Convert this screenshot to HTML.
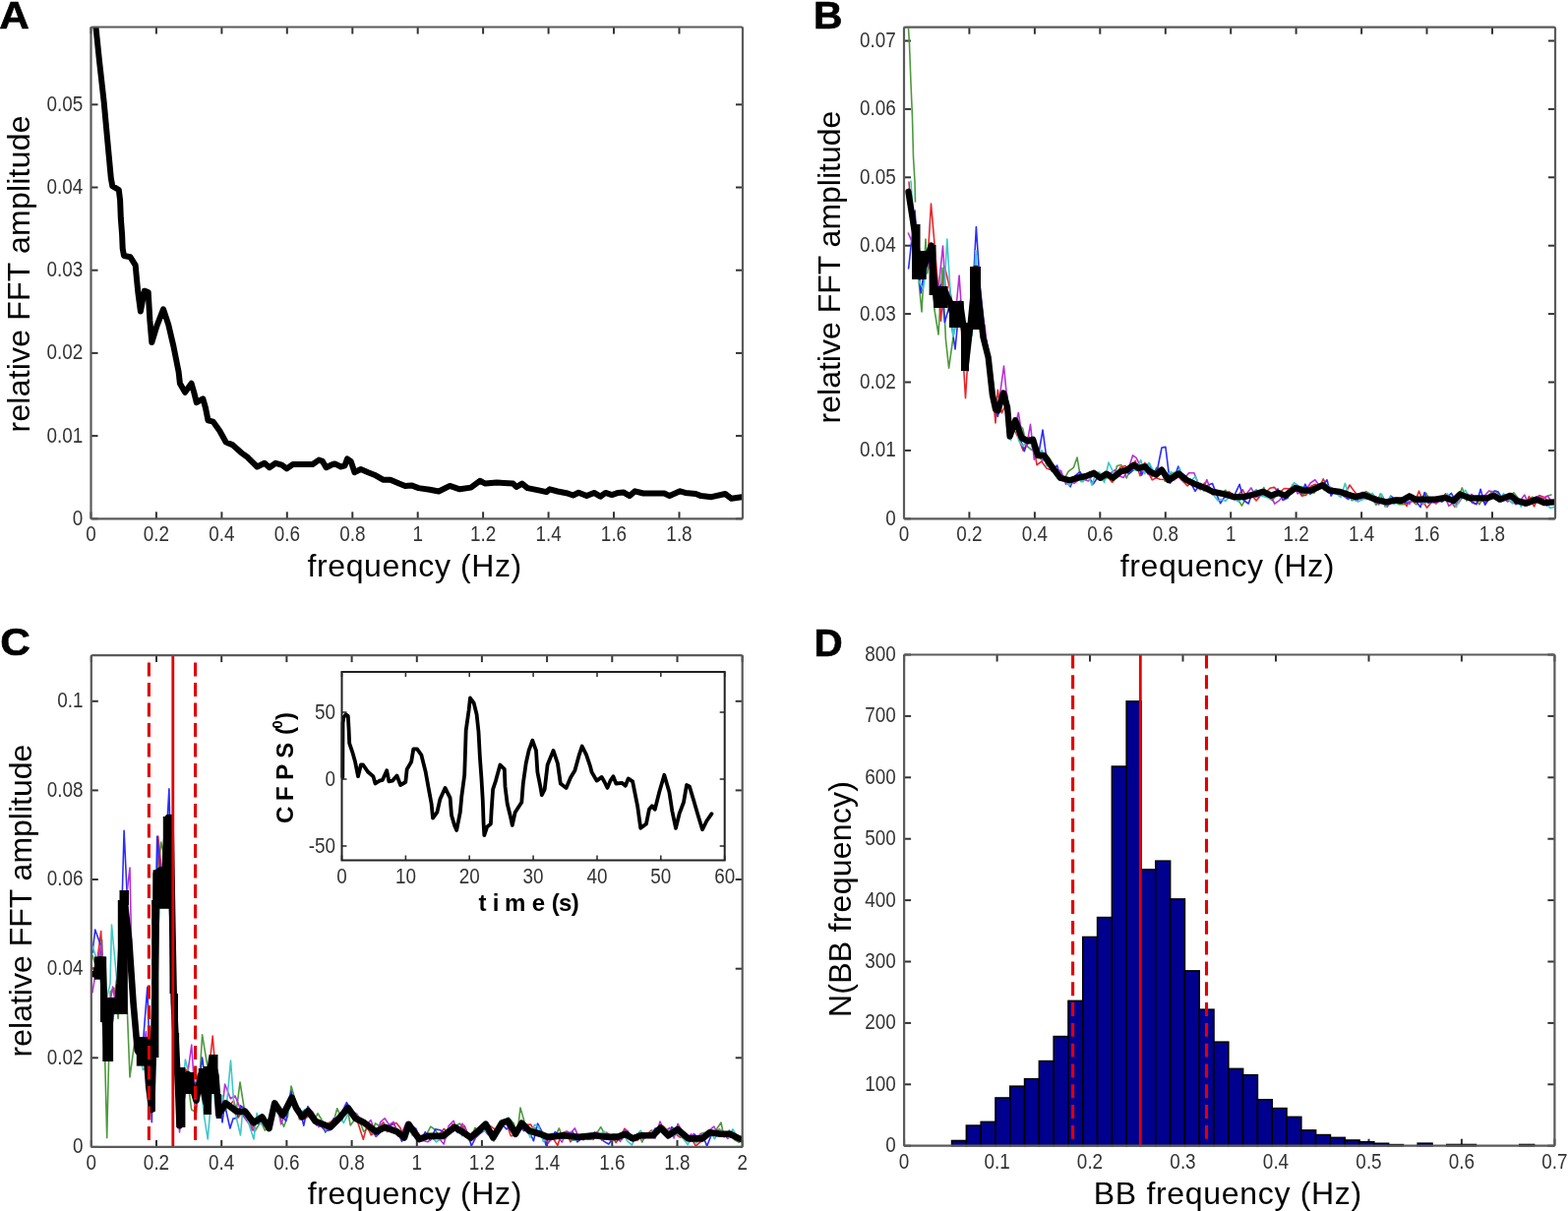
<!DOCTYPE html>
<html><head><meta charset="utf-8"><title>Figure</title>
<style>
html,body{margin:0;padding:0;background:#fff;}
body{width:1594px;height:1231px;overflow:hidden;}
svg{display:block;}
.tl{font-family:'Liberation Sans', Arial, sans-serif;font-size:21px;fill:#333;}
.al{font-family:'Liberation Sans', Arial, sans-serif;font-size:32px;fill:#000;letter-spacing:0.45px;}
.pl{font-family:'Liberation Sans', Arial, sans-serif;font-size:38.5px;font-weight:bold;fill:#000;stroke:#000;stroke-width:0.6px;}
.il{font-family:'Liberation Sans', Arial, sans-serif;font-size:17px;fill:#333;}
.ib{font-family:'Liberation Sans', Arial, sans-serif;font-size:24px;font-weight:bold;fill:#000;}
.ibs{font-family:'Liberation Sans', Arial, sans-serif;font-size:15px;font-weight:bold;fill:#000;}
</style></head>
<body>
<svg width="1594" height="1231" viewBox="0 0 1594 1231">
<rect width="100%" height="100%" fill="#fff"/>
<line x1="92.5" y1="527.3" x2="92.5" y2="520.3" stroke="#333" stroke-width="2"/>
<line x1="92.5" y1="27.5" x2="92.5" y2="34.5" stroke="#333" stroke-width="2"/>
<line x1="158.9" y1="527.3" x2="158.9" y2="520.3" stroke="#333" stroke-width="2"/>
<line x1="158.9" y1="27.5" x2="158.9" y2="34.5" stroke="#333" stroke-width="2"/>
<line x1="225.4" y1="527.3" x2="225.4" y2="520.3" stroke="#333" stroke-width="2"/>
<line x1="225.4" y1="27.5" x2="225.4" y2="34.5" stroke="#333" stroke-width="2"/>
<line x1="291.8" y1="527.3" x2="291.8" y2="520.3" stroke="#333" stroke-width="2"/>
<line x1="291.8" y1="27.5" x2="291.8" y2="34.5" stroke="#333" stroke-width="2"/>
<line x1="358.3" y1="527.3" x2="358.3" y2="520.3" stroke="#333" stroke-width="2"/>
<line x1="358.3" y1="27.5" x2="358.3" y2="34.5" stroke="#333" stroke-width="2"/>
<line x1="424.7" y1="527.3" x2="424.7" y2="520.3" stroke="#333" stroke-width="2"/>
<line x1="424.7" y1="27.5" x2="424.7" y2="34.5" stroke="#333" stroke-width="2"/>
<line x1="491.1" y1="527.3" x2="491.1" y2="520.3" stroke="#333" stroke-width="2"/>
<line x1="491.1" y1="27.5" x2="491.1" y2="34.5" stroke="#333" stroke-width="2"/>
<line x1="557.6" y1="527.3" x2="557.6" y2="520.3" stroke="#333" stroke-width="2"/>
<line x1="557.6" y1="27.5" x2="557.6" y2="34.5" stroke="#333" stroke-width="2"/>
<line x1="624.0" y1="527.3" x2="624.0" y2="520.3" stroke="#333" stroke-width="2"/>
<line x1="624.0" y1="27.5" x2="624.0" y2="34.5" stroke="#333" stroke-width="2"/>
<line x1="690.5" y1="527.3" x2="690.5" y2="520.3" stroke="#333" stroke-width="2"/>
<line x1="690.5" y1="27.5" x2="690.5" y2="34.5" stroke="#333" stroke-width="2"/>
<line x1="92.5" y1="527.3" x2="99.5" y2="527.3" stroke="#333" stroke-width="2"/>
<line x1="755.0" y1="527.3" x2="748.0" y2="527.3" stroke="#333" stroke-width="2"/>
<line x1="92.5" y1="443.1" x2="99.5" y2="443.1" stroke="#333" stroke-width="2"/>
<line x1="755.0" y1="443.1" x2="748.0" y2="443.1" stroke="#333" stroke-width="2"/>
<line x1="92.5" y1="358.9" x2="99.5" y2="358.9" stroke="#333" stroke-width="2"/>
<line x1="755.0" y1="358.9" x2="748.0" y2="358.9" stroke="#333" stroke-width="2"/>
<line x1="92.5" y1="274.7" x2="99.5" y2="274.7" stroke="#333" stroke-width="2"/>
<line x1="755.0" y1="274.7" x2="748.0" y2="274.7" stroke="#333" stroke-width="2"/>
<line x1="92.5" y1="190.5" x2="99.5" y2="190.5" stroke="#333" stroke-width="2"/>
<line x1="755.0" y1="190.5" x2="748.0" y2="190.5" stroke="#333" stroke-width="2"/>
<line x1="92.5" y1="106.3" x2="99.5" y2="106.3" stroke="#333" stroke-width="2"/>
<line x1="755.0" y1="106.3" x2="748.0" y2="106.3" stroke="#333" stroke-width="2"/>
<line x1="919.0" y1="527.3" x2="919.0" y2="520.3" stroke="#333" stroke-width="2"/>
<line x1="919.0" y1="27.7" x2="919.0" y2="34.7" stroke="#333" stroke-width="2"/>
<line x1="985.4" y1="527.3" x2="985.4" y2="520.3" stroke="#333" stroke-width="2"/>
<line x1="985.4" y1="27.7" x2="985.4" y2="34.7" stroke="#333" stroke-width="2"/>
<line x1="1051.9" y1="527.3" x2="1051.9" y2="520.3" stroke="#333" stroke-width="2"/>
<line x1="1051.9" y1="27.7" x2="1051.9" y2="34.7" stroke="#333" stroke-width="2"/>
<line x1="1118.3" y1="527.3" x2="1118.3" y2="520.3" stroke="#333" stroke-width="2"/>
<line x1="1118.3" y1="27.7" x2="1118.3" y2="34.7" stroke="#333" stroke-width="2"/>
<line x1="1184.8" y1="527.3" x2="1184.8" y2="520.3" stroke="#333" stroke-width="2"/>
<line x1="1184.8" y1="27.7" x2="1184.8" y2="34.7" stroke="#333" stroke-width="2"/>
<line x1="1251.2" y1="527.3" x2="1251.2" y2="520.3" stroke="#333" stroke-width="2"/>
<line x1="1251.2" y1="27.7" x2="1251.2" y2="34.7" stroke="#333" stroke-width="2"/>
<line x1="1317.6" y1="527.3" x2="1317.6" y2="520.3" stroke="#333" stroke-width="2"/>
<line x1="1317.6" y1="27.7" x2="1317.6" y2="34.7" stroke="#333" stroke-width="2"/>
<line x1="1384.1" y1="527.3" x2="1384.1" y2="520.3" stroke="#333" stroke-width="2"/>
<line x1="1384.1" y1="27.7" x2="1384.1" y2="34.7" stroke="#333" stroke-width="2"/>
<line x1="1450.5" y1="527.3" x2="1450.5" y2="520.3" stroke="#333" stroke-width="2"/>
<line x1="1450.5" y1="27.7" x2="1450.5" y2="34.7" stroke="#333" stroke-width="2"/>
<line x1="1517.0" y1="527.3" x2="1517.0" y2="520.3" stroke="#333" stroke-width="2"/>
<line x1="1517.0" y1="27.7" x2="1517.0" y2="34.7" stroke="#333" stroke-width="2"/>
<line x1="919.0" y1="527.3" x2="926.0" y2="527.3" stroke="#333" stroke-width="2"/>
<line x1="1581.0" y1="527.3" x2="1574.0" y2="527.3" stroke="#333" stroke-width="2"/>
<line x1="919.0" y1="457.9" x2="926.0" y2="457.9" stroke="#333" stroke-width="2"/>
<line x1="1581.0" y1="457.9" x2="1574.0" y2="457.9" stroke="#333" stroke-width="2"/>
<line x1="919.0" y1="388.5" x2="926.0" y2="388.5" stroke="#333" stroke-width="2"/>
<line x1="1581.0" y1="388.5" x2="1574.0" y2="388.5" stroke="#333" stroke-width="2"/>
<line x1="919.0" y1="319.1" x2="926.0" y2="319.1" stroke="#333" stroke-width="2"/>
<line x1="1581.0" y1="319.1" x2="1574.0" y2="319.1" stroke="#333" stroke-width="2"/>
<line x1="919.0" y1="249.7" x2="926.0" y2="249.7" stroke="#333" stroke-width="2"/>
<line x1="1581.0" y1="249.7" x2="1574.0" y2="249.7" stroke="#333" stroke-width="2"/>
<line x1="919.0" y1="180.3" x2="926.0" y2="180.3" stroke="#333" stroke-width="2"/>
<line x1="1581.0" y1="180.3" x2="1574.0" y2="180.3" stroke="#333" stroke-width="2"/>
<line x1="919.0" y1="110.9" x2="926.0" y2="110.9" stroke="#333" stroke-width="2"/>
<line x1="1581.0" y1="110.9" x2="1574.0" y2="110.9" stroke="#333" stroke-width="2"/>
<line x1="919.0" y1="41.5" x2="926.0" y2="41.5" stroke="#333" stroke-width="2"/>
<line x1="1581.0" y1="41.5" x2="1574.0" y2="41.5" stroke="#333" stroke-width="2"/>
<line x1="92.8" y1="1165.9" x2="92.8" y2="1158.9" stroke="#333" stroke-width="2"/>
<line x1="92.8" y1="666.1" x2="92.8" y2="673.1" stroke="#333" stroke-width="2"/>
<line x1="159.0" y1="1165.9" x2="159.0" y2="1158.9" stroke="#333" stroke-width="2"/>
<line x1="159.0" y1="666.1" x2="159.0" y2="673.1" stroke="#333" stroke-width="2"/>
<line x1="225.2" y1="1165.9" x2="225.2" y2="1158.9" stroke="#333" stroke-width="2"/>
<line x1="225.2" y1="666.1" x2="225.2" y2="673.1" stroke="#333" stroke-width="2"/>
<line x1="291.4" y1="1165.9" x2="291.4" y2="1158.9" stroke="#333" stroke-width="2"/>
<line x1="291.4" y1="666.1" x2="291.4" y2="673.1" stroke="#333" stroke-width="2"/>
<line x1="357.6" y1="1165.9" x2="357.6" y2="1158.9" stroke="#333" stroke-width="2"/>
<line x1="357.6" y1="666.1" x2="357.6" y2="673.1" stroke="#333" stroke-width="2"/>
<line x1="423.8" y1="1165.9" x2="423.8" y2="1158.9" stroke="#333" stroke-width="2"/>
<line x1="423.8" y1="666.1" x2="423.8" y2="673.1" stroke="#333" stroke-width="2"/>
<line x1="489.9" y1="1165.9" x2="489.9" y2="1158.9" stroke="#333" stroke-width="2"/>
<line x1="489.9" y1="666.1" x2="489.9" y2="673.1" stroke="#333" stroke-width="2"/>
<line x1="556.1" y1="1165.9" x2="556.1" y2="1158.9" stroke="#333" stroke-width="2"/>
<line x1="556.1" y1="666.1" x2="556.1" y2="673.1" stroke="#333" stroke-width="2"/>
<line x1="622.3" y1="1165.9" x2="622.3" y2="1158.9" stroke="#333" stroke-width="2"/>
<line x1="622.3" y1="666.1" x2="622.3" y2="673.1" stroke="#333" stroke-width="2"/>
<line x1="688.5" y1="1165.9" x2="688.5" y2="1158.9" stroke="#333" stroke-width="2"/>
<line x1="688.5" y1="666.1" x2="688.5" y2="673.1" stroke="#333" stroke-width="2"/>
<line x1="754.7" y1="1165.9" x2="754.7" y2="1158.9" stroke="#333" stroke-width="2"/>
<line x1="754.7" y1="666.1" x2="754.7" y2="673.1" stroke="#333" stroke-width="2"/>
<line x1="92.8" y1="1165.9" x2="99.8" y2="1165.9" stroke="#333" stroke-width="2"/>
<line x1="754.7" y1="1165.9" x2="747.7" y2="1165.9" stroke="#333" stroke-width="2"/>
<line x1="92.8" y1="1075.3" x2="99.8" y2="1075.3" stroke="#333" stroke-width="2"/>
<line x1="754.7" y1="1075.3" x2="747.7" y2="1075.3" stroke="#333" stroke-width="2"/>
<line x1="92.8" y1="984.7" x2="99.8" y2="984.7" stroke="#333" stroke-width="2"/>
<line x1="754.7" y1="984.7" x2="747.7" y2="984.7" stroke="#333" stroke-width="2"/>
<line x1="92.8" y1="894.0" x2="99.8" y2="894.0" stroke="#333" stroke-width="2"/>
<line x1="754.7" y1="894.0" x2="747.7" y2="894.0" stroke="#333" stroke-width="2"/>
<line x1="92.8" y1="803.4" x2="99.8" y2="803.4" stroke="#333" stroke-width="2"/>
<line x1="754.7" y1="803.4" x2="747.7" y2="803.4" stroke="#333" stroke-width="2"/>
<line x1="92.8" y1="712.8" x2="99.8" y2="712.8" stroke="#333" stroke-width="2"/>
<line x1="754.7" y1="712.8" x2="747.7" y2="712.8" stroke="#333" stroke-width="2"/>
<line x1="919.1" y1="1164.7" x2="919.1" y2="1157.7" stroke="#333" stroke-width="2"/>
<line x1="919.1" y1="665.5" x2="919.1" y2="672.5" stroke="#333" stroke-width="2"/>
<line x1="1013.6" y1="1164.7" x2="1013.6" y2="1157.7" stroke="#333" stroke-width="2"/>
<line x1="1013.6" y1="665.5" x2="1013.6" y2="672.5" stroke="#333" stroke-width="2"/>
<line x1="1108.0" y1="1164.7" x2="1108.0" y2="1157.7" stroke="#333" stroke-width="2"/>
<line x1="1108.0" y1="665.5" x2="1108.0" y2="672.5" stroke="#333" stroke-width="2"/>
<line x1="1202.5" y1="1164.7" x2="1202.5" y2="1157.7" stroke="#333" stroke-width="2"/>
<line x1="1202.5" y1="665.5" x2="1202.5" y2="672.5" stroke="#333" stroke-width="2"/>
<line x1="1297.0" y1="1164.7" x2="1297.0" y2="1157.7" stroke="#333" stroke-width="2"/>
<line x1="1297.0" y1="665.5" x2="1297.0" y2="672.5" stroke="#333" stroke-width="2"/>
<line x1="1391.5" y1="1164.7" x2="1391.5" y2="1157.7" stroke="#333" stroke-width="2"/>
<line x1="1391.5" y1="665.5" x2="1391.5" y2="672.5" stroke="#333" stroke-width="2"/>
<line x1="1485.9" y1="1164.7" x2="1485.9" y2="1157.7" stroke="#333" stroke-width="2"/>
<line x1="1485.9" y1="665.5" x2="1485.9" y2="672.5" stroke="#333" stroke-width="2"/>
<line x1="1580.4" y1="1164.7" x2="1580.4" y2="1157.7" stroke="#333" stroke-width="2"/>
<line x1="1580.4" y1="665.5" x2="1580.4" y2="672.5" stroke="#333" stroke-width="2"/>
<line x1="919.1" y1="1164.7" x2="926.1" y2="1164.7" stroke="#333" stroke-width="2"/>
<line x1="1580.4" y1="1164.7" x2="1573.4" y2="1164.7" stroke="#333" stroke-width="2"/>
<line x1="919.1" y1="1102.3" x2="926.1" y2="1102.3" stroke="#333" stroke-width="2"/>
<line x1="1580.4" y1="1102.3" x2="1573.4" y2="1102.3" stroke="#333" stroke-width="2"/>
<line x1="919.1" y1="1039.9" x2="926.1" y2="1039.9" stroke="#333" stroke-width="2"/>
<line x1="1580.4" y1="1039.9" x2="1573.4" y2="1039.9" stroke="#333" stroke-width="2"/>
<line x1="919.1" y1="977.5" x2="926.1" y2="977.5" stroke="#333" stroke-width="2"/>
<line x1="1580.4" y1="977.5" x2="1573.4" y2="977.5" stroke="#333" stroke-width="2"/>
<line x1="919.1" y1="915.1" x2="926.1" y2="915.1" stroke="#333" stroke-width="2"/>
<line x1="1580.4" y1="915.1" x2="1573.4" y2="915.1" stroke="#333" stroke-width="2"/>
<line x1="919.1" y1="852.7" x2="926.1" y2="852.7" stroke="#333" stroke-width="2"/>
<line x1="1580.4" y1="852.7" x2="1573.4" y2="852.7" stroke="#333" stroke-width="2"/>
<line x1="919.1" y1="790.3" x2="926.1" y2="790.3" stroke="#333" stroke-width="2"/>
<line x1="1580.4" y1="790.3" x2="1573.4" y2="790.3" stroke="#333" stroke-width="2"/>
<line x1="919.1" y1="727.9" x2="926.1" y2="727.9" stroke="#333" stroke-width="2"/>
<line x1="1580.4" y1="727.9" x2="1573.4" y2="727.9" stroke="#333" stroke-width="2"/>
<line x1="919.1" y1="665.5" x2="926.1" y2="665.5" stroke="#333" stroke-width="2"/>
<line x1="1580.4" y1="665.5" x2="1573.4" y2="665.5" stroke="#333" stroke-width="2"/>
<defs><clipPath id="clipA"><rect x="92.5" y="27.5" width="662.5" height="499.8"/></clipPath><clipPath id="clipB"><rect x="919.0" y="27.7" width="662.0" height="499.6"/></clipPath><clipPath id="clipC"><rect x="92.8" y="666.1" width="661.9" height="499.8"/></clipPath><clipPath id="clipD"><rect x="919.1" y="665.5" width="661.3" height="499.2"/></clipPath></defs>
<g clip-path="url(#clipA)"><polyline points="97.5,28.0 101.0,62.0 105.6,103.0 109.0,140.0 112.8,181.0 114.3,189.1 120.8,193.0 122.1,203.4 122.8,221.6 124.1,238.5 124.7,252.8 126.0,260.0 132.5,261.3 137.7,269.7 139.0,284.0 140.3,297.0 142.9,316.5 146.8,295.7 150.7,297.0 152.4,326.0 154.3,348.1 159.5,331.2 166.0,314.3 171.2,329.9 176.4,352.0 179.0,365.0 181.6,378.0 182.9,389.7 188.1,398.8 194.6,389.7 197.2,398.8 199.8,409.2 206.3,405.3 208.9,414.4 211.5,427.4 216.7,428.7 223.2,437.8 229.7,449.5 236.2,452.1 245.1,460.1 251.3,464.5 261.4,474.5 268.9,470.8 273.9,475.2 280.2,470.8 286.5,472.7 291.5,476.4 297.8,472.0 317.8,472.0 324.1,467.6 327.9,468.9 331.6,475.2 336.6,472.7 340.4,471.4 346.7,474.5 350.5,473.3 353.0,466.4 356.7,468.9 360.5,480.2 366.8,477.0 374.3,480.2 380.6,482.7 389.4,487.7 396.9,487.7 405.7,491.5 411.9,494.0 418.2,493.4 425.6,496.1 436.9,497.8 446.0,499.5 457.3,493.9 467.4,497.3 478.7,495.6 487.8,488.8 493.4,491.6 504.7,490.5 521.6,491.6 525.0,495.0 530.7,491.6 536.3,496.1 547.6,498.4 555.5,500.1 558.9,497.3 566.8,499.5 575.8,501.2 582.6,503.5 588.2,500.7 596.4,504.1 603.9,500.9 610.3,504.7 615.6,500.9 622.0,503.1 628.4,500.9 633.7,500.4 640.1,504.1 645.5,499.3 654.0,501.5 675.3,501.5 680.7,504.1 691.3,499.3 696.7,500.9 707.3,502.0 712.7,504.1 723.3,505.2 737.2,502.0 743.6,506.8 754.0,505.2" fill="none" stroke="#000" stroke-width="6" stroke-linejoin="round" stroke-linecap="round"/></g>
<g clip-path="url(#clipB)"><polyline points="926.0,206.7 930.8,251.7 937.0,317.0 941.0,243.0 942.7,277.9 946.4,254.4 950.0,315.0 954.0,340.0 958.0,272.2 961.4,344.6 964.6,374.2 972.1,320.4 976.3,313.2 980.4,343.3 985.5,346.0 990.2,308.8 994.5,294.4 998.2,331.0 1002.2,348.5 1006.3,368.8 1011.0,404.5 1016.0,414.4 1020.9,402.9 1025.4,439.5 1030.6,431.1 1036.0,431.8 1039.8,435.9 1043.7,453.1 1048.1,456.9 1053.1,458.9 1057.7,466.6 1062.6,461.1 1067.3,466.4 1072.4,475.9 1077.7,478.8 1081.4,487.7 1086.2,479.2 1091.3,475.4 1095.0,465.0 1099.1,489.6 1103.5,485.3 1107.2,484.8 1112.2,483.6 1116.5,486.9 1121.7,488.3 1126.3,485.1 1131.5,489.5 1135.6,473.5 1139.9,472.5 1145.2,486.0 1149.1,477.0 1153.1,476.6 1157.6,472.5 1161.2,472.8 1165.5,471.5 1170.9,485.0 1175.7,475.4 1180.5,477.2 1184.2,489.3 1189.4,482.3 1194.4,480.1 1198.2,484.6 1203.0,486.8 1206.9,488.9 1210.8,489.4 1214.4,493.2 1218.3,496.7 1221.9,497.2 1227.1,495.3 1231.2,497.6 1235.4,499.0 1240.5,502.9 1245.9,498.2 1249.7,504.7 1253.5,503.4 1258.5,507.5 1262.4,514.1 1267.0,505.8 1270.9,502.6 1275.4,502.1 1280.8,504.7 1284.8,495.5 1289.1,505.6 1293.7,508.9 1298.7,500.2 1303.7,505.0 1309.1,506.1 1314.2,492.2 1319.1,497.3 1323.3,502.8 1327.0,501.7 1331.1,499.1 1335.9,501.4 1341.2,493.5 1346.6,498.6 1350.6,496.8 1354.6,499.8 1359.3,502.0 1364.5,503.1 1369.3,498.7 1374.3,508.8 1379.6,507.4 1384.6,503.6 1388.5,499.5 1393.5,502.5 1398.9,513.4 1403.2,502.0 1408.1,515.0 1412.0,511.2 1417.2,510.3 1422.3,512.7 1427.6,512.7 1432.4,501.8 1436.3,509.9 1439.9,512.8 1444.4,506.8 1449.7,501.1 1454.8,510.6 1458.8,507.7 1462.8,510.0 1467.5,506.0 1471.3,510.3 1476.5,506.2 1481.2,508.6 1486.4,495.9 1490.9,509.0 1495.5,505.7 1499.9,506.3 1503.8,512.9 1507.7,506.6 1512.2,505.5 1516.3,499.9 1520.9,499.2 1524.7,505.4 1529.3,506.1 1534.3,507.3 1538.8,500.7 1544.0,507.3 1548.4,507.8 1552.9,508.4 1557.8,505.1 1562.2,509.2 1567.5,507.9 1572.8,504.2 1576.9,502.9" fill="none" stroke="#4c9a3c" stroke-width="1.6" stroke-linejoin="round" stroke-linecap="round"/>
<polyline points="924.0,185.0 929.8,250.2 933.6,277.0 937.5,264.0 942.6,272.2 946.5,207.0 950.0,248.0 956.5,326.1 960.5,271.4 965.8,294.4 971.2,332.7 976.3,316.8 981.5,404.8 985.0,346.9 989.9,306.7 993.5,274.4 997.2,318.9 1001.4,340.6 1005.1,358.2 1012.0,430.0 1014.3,396.4 1018.3,419.8 1022.4,411.7 1026.3,425.8 1031.3,437.5 1035.4,445.5 1040.0,457.8 1044.9,450.1 1049.7,448.0 1054.1,472.6 1058.8,469.0 1063.9,476.1 1067.6,477.4 1072.7,474.7 1077.3,486.4 1082.6,486.7 1087.2,490.5 1091.2,489.2 1094.9,487.7 1098.8,483.5 1103.8,487.8 1107.9,479.4 1112.1,481.0 1115.8,483.7 1120.7,485.1 1125.3,484.0 1130.6,490.2 1134.4,485.4 1138.9,474.9 1144.0,473.4 1148.8,479.3 1154.2,468.4 1159.0,483.7 1163.8,470.3 1167.5,480.6 1171.3,487.9 1175.4,485.8 1179.3,487.3 1184.4,487.5 1189.2,486.5 1193.4,488.0 1197.8,484.7 1201.9,488.6 1207.2,494.0 1211.2,489.4 1216.6,491.3 1220.2,497.9 1224.5,490.9 1228.4,498.5 1232.9,503.0 1236.7,500.7 1241.0,502.3 1245.2,502.6 1249.2,499.6 1254.1,502.8 1258.9,503.5 1263.2,497.6 1267.4,506.5 1272.3,502.9 1277.1,508.9 1282.3,502.4 1287.0,500.5 1290.9,496.3 1295.4,495.4 1300.4,501.1 1305.5,496.5 1310.4,496.7 1315.2,497.4 1319.1,497.6 1323.3,504.1 1327.9,503.2 1332.6,494.2 1337.1,492.1 1340.7,497.0 1345.2,486.8 1349.8,496.5 1354.7,497.7 1358.8,502.2 1363.7,501.8 1367.7,501.1 1372.1,493.0 1376.4,499.1 1381.4,505.0 1386.1,502.3 1390.0,503.2 1394.0,505.9 1398.7,504.7 1402.3,511.3 1407.1,510.9 1411.9,508.5 1416.5,506.4 1420.9,506.8 1426.1,508.6 1430.1,514.5 1433.7,503.7 1438.1,511.1 1442.5,499.2 1446.6,509.9 1450.6,516.1 1455.3,510.4 1460.6,510.8 1464.4,508.6 1469.6,501.8 1474.5,508.7 1478.9,515.2 1482.6,508.4 1487.0,503.7 1491.1,507.3 1495.3,509.0 1500.4,512.5 1505.5,506.5 1509.4,511.6 1514.6,502.7 1518.7,501.4 1524.1,509.8 1528.8,503.8 1532.9,507.8 1536.5,510.3 1540.7,511.9 1545.9,510.1 1550.5,514.1 1554.4,504.5 1559.6,514.9 1564.7,503.6 1569.9,505.4 1574.5,510.5 1579.5,509.4" fill="none" stroke="#e8262a" stroke-width="1.6" stroke-linejoin="round" stroke-linecap="round"/>
<polyline points="923.6,272.9 930.1,214.1 933.8,274.3 936.1,298.0 942.5,254.5 947.8,288.0 951.9,299.1 956.5,289.0 960.4,327.7 964.8,311.9 971.0,355.0 975.2,311.7 980.6,340.1 984.6,349.1 988.3,308.2 992.4,230.6 996.4,292.4 1001.4,340.3 1005.7,362.2 1010.0,412.2 1014.2,423.5 1019.6,404.0 1023.4,399.8 1028.5,437.6 1032.5,427.4 1036.9,445.2 1041.3,458.8 1046.4,444.3 1050.1,456.9 1055.3,464.8 1060.0,437.0 1064.0,466.7 1069.3,479.2 1074.7,473.1 1078.7,488.0 1083.2,488.8 1088.1,494.8 1092.8,483.9 1097.8,479.5 1101.5,486.1 1106.5,484.2 1111.3,492.0 1115.4,486.0 1120.1,487.2 1125.0,483.2 1129.5,485.8 1134.2,480.8 1138.9,482.0 1142.5,476.7 1147.8,481.7 1152.6,477.3 1156.6,471.6 1160.7,483.0 1164.8,473.3 1168.4,471.4 1172.8,481.4 1176.9,475.5 1181.0,455.0 1184.9,454.4 1189.4,491.2 1193.3,486.9 1197.8,474.1 1201.8,488.2 1206.9,487.5 1210.9,491.6 1215.0,499.4 1220.3,491.5 1224.3,495.8 1228.7,492.8 1232.5,491.4 1236.9,503.1 1240.7,511.6 1244.4,505.8 1249.6,505.1 1254.8,503.7 1260.1,492.3 1264.3,508.5 1269.2,512.0 1272.9,501.1 1277.2,498.6 1281.4,500.8 1285.5,500.7 1289.7,504.5 1295.0,502.2 1299.0,496.9 1304.1,508.4 1308.5,506.5 1312.7,500.5 1318.0,497.6 1323.2,501.6 1326.8,492.2 1331.8,502.4 1335.5,498.7 1340.8,495.3 1344.8,493.1 1349.0,487.8 1353.1,504.1 1357.2,497.8 1362.1,498.6 1365.7,504.0 1370.7,507.5 1375.9,501.9 1379.6,505.1 1384.9,507.8 1390.2,502.4 1394.6,508.0 1399.1,509.9 1404.1,508.2 1409.1,513.0 1413.8,504.1 1418.0,507.3 1423.0,511.8 1426.7,509.8 1430.7,511.4 1434.5,509.9 1438.6,508.3 1444.0,515.6 1448.1,500.6 1451.8,511.2 1456.7,510.1 1461.1,507.7 1465.8,510.2 1470.7,506.1 1475.4,501.3 1479.3,508.9 1483.9,500.0 1488.2,503.8 1492.2,503.1 1496.2,510.7 1500.9,512.6 1505.1,497.3 1509.6,513.3 1513.6,507.6 1519.0,499.1 1522.8,499.8 1527.9,507.7 1533.1,507.7 1536.9,505.7 1540.9,512.7 1546.2,509.4 1550.4,513.9 1554.5,507.7 1559.5,510.2 1564.2,508.1 1568.9,511.3 1572.7,514.0 1576.7,510.4" fill="none" stroke="#2b2bff" stroke-width="1.6" stroke-linejoin="round" stroke-linecap="round"/>
<polyline points="923.4,237.0 930.0,252.8 934.8,278.6 938.7,268.5 943.8,268.4 948.3,276.0 952.6,307.9 958.5,250.0 961.1,292.9 966.0,298.7 970.1,332.5 975.1,280.0 979.7,348.1 984.0,377.1 988.3,277.9 992.3,274.2 998.4,332.0 1001.1,330.3 1004.7,370.0 1010.6,404.6 1014.2,418.6 1020.5,372.0 1022.6,394.2 1027.3,435.8 1031.2,436.6 1035.3,419.5 1039.1,443.3 1043.6,453.4 1047.5,431.4 1051.3,467.2 1055.8,457.5 1059.5,468.2 1064.7,465.4 1069.5,476.0 1074.5,478.8 1078.5,478.4 1083.6,492.2 1087.5,489.1 1092.0,491.4 1096.3,488.1 1101.2,487.1 1106.4,489.0 1111.4,482.6 1115.1,484.5 1119.7,482.9 1124.3,479.1 1128.7,481.2 1133.3,477.8 1137.7,483.8 1142.1,485.5 1146.6,478.2 1151.6,462.8 1155.1,465.4 1159.0,473.1 1162.8,475.0 1167.2,482.3 1171.7,483.6 1175.4,481.0 1180.3,476.5 1185.3,482.6 1189.8,486.7 1194.1,486.6 1199.2,481.3 1204.6,485.6 1208.6,480.8 1213.9,480.8 1219.2,494.3 1223.1,497.6 1226.8,487.6 1231.0,499.1 1236.3,498.2 1240.3,502.2 1244.9,500.3 1250.1,504.6 1254.6,507.9 1258.8,507.4 1262.7,505.6 1268.0,500.8 1271.9,495.9 1276.9,505.5 1281.6,503.7 1285.9,504.2 1290.5,499.6 1295.7,512.1 1300.4,508.8 1304.8,504.0 1310.1,498.1 1314.8,493.1 1319.2,502.0 1323.1,497.9 1328.2,497.2 1332.2,491.0 1336.9,487.6 1341.7,494.5 1345.3,493.9 1349.2,493.5 1353.7,495.9 1358.9,501.4 1363.7,502.5 1367.4,505.3 1371.1,503.0 1375.4,505.2 1380.0,509.4 1384.0,500.6 1387.9,500.6 1393.1,505.7 1396.9,509.2 1401.7,512.8 1406.0,505.2 1410.1,515.2 1414.7,509.7 1418.9,506.2 1424.2,505.9 1429.1,506.6 1432.8,512.5 1437.3,504.5 1441.1,509.2 1446.1,512.2 1451.3,508.1 1455.2,509.2 1459.7,512.2 1464.5,507.6 1468.6,503.9 1472.8,514.3 1477.8,510.9 1482.7,511.2 1487.6,504.1 1492.0,505.2 1496.1,502.4 1499.8,506.5 1504.0,507.4 1509.0,504.0 1513.9,498.9 1518.0,500.1 1523.0,505.3 1527.5,506.2 1532.9,510.1 1536.8,505.3 1540.9,507.6 1544.9,509.5 1549.9,503.1 1554.1,512.9 1558.1,507.0 1563.3,504.6 1568.1,506.5 1573.5,504.3 1578.3,511.8" fill="none" stroke="#b830d8" stroke-width="1.6" stroke-linejoin="round" stroke-linecap="round"/>
<polyline points="926.0,184.1 930.6,252.5 934.0,285.5 938.5,293.7 943.8,260.6 947.6,262.8 952.8,300.9 956.5,305.3 960.2,288.6 962.8,243.0 968.8,342.5 974.2,321.9 979.3,341.4 983.0,340.4 988.1,341.0 991.9,254.8 995.9,315.3 1001.0,350.9 1006.1,363.5 1010.8,398.7 1014.9,418.8 1019.9,402.6 1023.9,409.7 1027.5,447.4 1031.6,426.6 1035.8,448.2 1040.0,453.5 1045.1,446.6 1049.9,453.5 1054.2,461.7 1059.2,457.8 1063.8,473.7 1067.8,473.9 1072.9,477.6 1076.8,487.6 1081.7,486.8 1087.1,493.4 1091.6,487.1 1096.6,487.7 1100.9,489.7 1106.0,482.4 1110.1,493.2 1114.0,480.6 1117.8,480.0 1122.6,490.5 1127.0,470.0 1132.5,481.7 1136.8,478.0 1141.1,480.5 1146.3,476.0 1149.9,475.7 1155.2,478.5 1159.7,467.6 1163.7,481.8 1168.1,470.3 1173.1,479.8 1177.8,477.7 1181.7,482.4 1186.8,482.4 1190.7,479.7 1195.1,484.4 1199.0,475.5 1203.4,488.1 1207.3,486.2 1211.5,488.0 1215.3,484.3 1219.2,493.8 1223.8,499.2 1227.7,496.1 1233.0,502.1 1237.9,508.9 1241.7,507.6 1246.0,509.3 1250.9,503.5 1255.3,506.9 1259.1,510.1 1263.1,504.4 1267.4,505.0 1272.4,501.5 1277.1,497.6 1281.6,503.9 1285.9,504.9 1290.8,506.6 1295.5,500.4 1300.4,498.8 1305.3,504.6 1310.5,501.7 1315.6,490.6 1320.5,494.2 1324.6,495.0 1329.4,501.9 1334.4,500.3 1339.3,493.4 1343.6,491.3 1348.0,492.8 1352.9,495.8 1358.1,501.7 1363.1,505.5 1367.4,491.2 1371.1,503.6 1375.7,507.9 1381.0,509.9 1385.5,507.3 1390.1,507.4 1395.0,501.2 1400.1,507.7 1404.6,502.1 1408.6,514.8 1413.4,504.9 1417.2,512.6 1422.6,508.0 1426.7,508.9 1431.0,509.2 1435.4,506.1 1440.2,506.0 1444.2,510.0 1449.2,511.8 1453.2,506.1 1458.2,505.8 1462.0,508.7 1467.0,508.2 1471.5,501.8 1476.1,509.8 1480.3,515.5 1485.1,505.8 1489.5,498.3 1493.6,504.2 1498.7,505.8 1503.0,508.1 1507.3,504.1 1511.3,504.3 1514.9,506.2 1519.8,504.2 1524.0,509.8 1528.4,501.7 1533.2,506.9 1537.5,511.9 1541.2,505.2 1546.3,515.2 1550.1,508.0 1555.2,509.8 1558.8,508.4 1564.1,507.2 1567.9,508.1 1571.8,511.5 1576.0,516.5 1579.9,515.4" fill="none" stroke="#3cc8c8" stroke-width="1.6" stroke-linejoin="round" stroke-linecap="round"/>
<polyline points="923.5,29.0 924.5,45.0 926.0,85.0 927.5,120.0 928.5,160.0 930.0,185.0 930.5,205.0" fill="none" stroke="#4c9a3c" stroke-width="1.6" stroke-linejoin="round" stroke-linecap="round"/>
<polyline points="923.4,194.8 927.7,222.2 930.8,243.3 934.0,268.6 935.1,281.3 940.3,268.6 946.7,249.6 948.8,275.0 952.0,306.6 959.3,294.0 965.7,306.6 969.9,327.7 976.2,308.7 980.4,338.3 981.5,374.2 986.8,327.7 992.0,272.9 995.2,306.6 999.4,342.5 1004.7,363.6 1008.9,401.6 1012.1,416.4 1014.4,417.5 1020.1,399.6 1024.1,414.2 1026.6,443.5 1032.2,427.2 1038.7,445.1 1045.2,448.4 1050.1,446.7 1055.0,463.0 1061.5,463.0 1068.0,472.7 1077.7,485.7 1087.5,488.2 1095.6,485.7 1103.7,484.1 1111.9,480.8 1118.4,485.7 1124.9,481.7 1131.3,485.7 1139.5,479.2 1146.0,477.6 1152.5,472.7 1157.3,476.0 1163.8,474.3 1168.7,479.2 1175.2,482.5 1180.9,477.6 1187.9,488.0 1198.4,481.4 1206.4,488.0 1214.3,491.9 1224.8,495.9 1232.7,499.8 1239.3,501.1 1245.9,502.5 1253.8,505.1 1264.3,505.1 1274.9,502.5 1284.1,499.8 1292.0,503.8 1299.9,501.1 1306.5,503.8 1317.0,495.9 1324.9,498.5 1332.8,498.5 1344.7,493.2 1351.3,498.5 1361.8,499.8 1369.7,502.5 1377.6,505.1 1386.6,503.1 1398.4,507.7 1409.0,510.4 1419.5,508.4 1424.8,509.0 1432.7,504.4 1439.3,507.7 1459.0,507.7 1469.6,505.8 1477.5,509.0 1484.1,502.5 1494.6,506.4 1511.8,506.4 1518.3,503.8 1524.9,507.7 1535.5,503.8 1542.1,509.0 1551.3,511.7 1561.8,507.7 1569.7,511.0 1580.0,510.4" fill="none" stroke="#000" stroke-width="6.3" stroke-linejoin="round" stroke-linecap="round"/>
<rect x="927" y="228" width="8.5" height="56.0" fill="#000"/>
<rect x="930" y="255" width="11.7" height="29.0" fill="#000"/>
<rect x="944.6" y="249" width="6.9" height="51.0" fill="#000"/>
<rect x="949" y="291" width="14.6" height="22.0" fill="#000"/>
<rect x="965" y="306" width="14.7" height="27.0" fill="#000"/>
<rect x="977" y="328" width="8.0" height="49.0" fill="#000"/>
<rect x="986" y="271" width="11.0" height="64.0" fill="#000"/></g>
<g clip-path="url(#clipC)"><polyline points="94.0,971.0 99.3,989.1 103.7,955.5 108.7,1156.6 112.2,1008.0 115.9,1004.2 120.1,1035.5 124.9,958.6 127.3,973.6 132.0,1095.0 138.1,1049.5 142.6,1073.4 146.3,1072.4 150.0,1094.3 154.4,1108.7 159.0,903.8 163.7,856.0 168.1,875.4 172.2,918.9 177.4,1029.6 182.2,1135.3 186.3,1104.4 190.1,1093.5 194.7,1128.0 199.5,1130.8 203.1,1093.2 205.6,1051.8 212.4,1093.2 216.7,1093.7 221.8,1129.0 225.8,1131.7 231.2,1125.6 236.1,1129.7 239.9,1132.2 244.0,1100.0 248.2,1126.5 252.6,1137.5 256.5,1147.0 259.0,1150.0 265.2,1140.1 269.3,1149.1 273.4,1145.4 278.6,1125.4 283.8,1133.9 288.5,1145.3 292.5,1134.7 296.0,1104.0 300.7,1120.0 304.4,1137.6 308.5,1137.8 313.2,1125.0 318.5,1140.9 323.0,1131.8 326.9,1137.9 330.8,1151.2 334.8,1140.8 338.8,1142.0 342.7,1126.7 348.0,1138.5 352.4,1122.5 356.2,1143.9 360.2,1138.5 365.1,1138.3 369.7,1150.2 373.9,1147.4 377.6,1153.2 381.6,1141.8 386.3,1145.2 390.4,1149.0 394.0,1145.3 398.1,1146.8 402.0,1150.3 406.3,1150.6 410.6,1155.1 415.8,1150.1 420.6,1149.4 425.3,1157.5 428.9,1157.7 434.1,1152.1 437.8,1145.2 442.5,1148.5 446.7,1155.6 452.1,1158.0 457.0,1152.2 462.2,1145.2 467.3,1142.0 472.5,1148.4 477.7,1160.5 482.9,1146.3 488.1,1151.9 492.7,1140.5 497.3,1146.2 502.0,1160.1 507.4,1149.4 512.6,1139.9 517.5,1136.7 522.2,1141.7 525.9,1152.6 529.0,1126.0 535.3,1147.9 539.4,1148.3 544.1,1146.6 549.3,1152.7 553.5,1155.0 558.3,1156.5 563.5,1157.5 568.3,1146.9 572.5,1157.3 577.3,1156.1 582.3,1159.3 587.6,1158.6 592.2,1152.9 596.4,1158.1 601.5,1158.1 606.6,1152.2 610.7,1145.6 614.6,1152.4 618.6,1156.7 623.0,1152.7 627.1,1152.7 632.2,1158.4 636.0,1152.5 639.6,1156.0 644.5,1156.1 649.1,1152.6 652.8,1160.9 656.6,1153.4 661.7,1154.6 665.7,1153.1 670.5,1148.6 674.9,1145.5 679.9,1149.7 685.3,1149.2 689.7,1146.1 693.6,1156.8 698.5,1156.6 702.4,1156.9 707.3,1160.9 711.8,1152.6 716.1,1151.3 721.2,1153.1 726.4,1150.9 733.0,1141.0 736.1,1156.0 741.3,1148.9 746.5,1158.5 751.5,1161.4" fill="none" stroke="#4c9a3c" stroke-width="1.6" stroke-linejoin="round" stroke-linecap="round"/>
<polyline points="94.0,984.1 98.0,982.9 102.7,946.5 107.6,1058.0 113.0,1050.7 118.3,997.4 122.5,973.1 127.8,937.4 131.5,946.7 135.9,1002.1 140.4,1063.5 144.0,1075.2 149.1,1072.9 153.0,1112.5 156.8,1052.4 160.7,850.1 165.8,899.8 170.6,863.2 176.0,969.5 179.7,1080.2 183.8,1135.5 188.7,1087.1 193.9,1092.9 198.7,1128.0 203.6,1101.7 208.8,1121.3 216.2,1053.0 218.7,1085.1 223.3,1129.6 227.8,1122.9 233.1,1123.3 237.6,1119.0 242.3,1135.9 246.7,1129.1 251.3,1130.7 255.7,1149.5 259.7,1137.0 264.2,1141.0 269.3,1144.0 274.5,1138.4 278.4,1125.6 283.1,1130.1 288.1,1131.2 291.8,1126.8 296.6,1120.3 300.8,1120.4 304.6,1137.6 309.5,1137.6 313.6,1134.7 317.5,1129.8 321.8,1139.2 326.1,1139.1 330.1,1143.0 334.8,1141.8 340.0,1136.9 344.7,1139.2 349.6,1127.9 354.7,1131.6 358.8,1130.6 364.1,1141.9 369.3,1158.2 373.1,1143.9 377.2,1153.8 381.0,1151.5 386.0,1144.5 389.8,1140.9 393.5,1150.5 397.4,1144.0 402.8,1141.4 406.6,1145.9 411.1,1156.0 415.9,1144.1 419.7,1150.4 423.4,1149.5 428.0,1155.8 431.8,1157.0 437.0,1157.4 442.3,1156.5 446.1,1154.1 451.4,1147.3 455.6,1152.5 460.0,1142.7 464.7,1146.8 468.3,1146.9 472.2,1144.3 476.6,1154.7 480.6,1150.6 484.5,1150.4 489.7,1146.4 494.7,1141.9 499.5,1145.3 503.8,1148.3 509.2,1140.0 514.2,1139.5 519.2,1154.6 524.2,1154.3 529.4,1139.1 534.6,1143.3 539.5,1143.0 543.9,1150.9 548.1,1150.8 552.5,1157.8 557.3,1156.1 562.0,1156.5 566.8,1164.4 571.0,1151.7 575.6,1150.2 579.9,1160.7 584.7,1155.5 589.7,1156.6 594.4,1155.2 599.3,1154.6 603.0,1158.5 607.0,1153.3 611.0,1156.3 616.3,1151.1 621.6,1154.5 626.2,1161.5 631.3,1154.2 635.0,1147.2 638.7,1150.8 644.0,1159.4 647.9,1159.3 652.4,1153.2 657.7,1153.4 662.0,1149.0 666.3,1150.8 670.4,1144.4 674.5,1144.9 679.4,1154.1 683.4,1152.3 687.1,1153.2 691.4,1156.2 696.6,1154.7 702.0,1156.2 707.3,1164.8 711.7,1161.1 716.2,1158.5 720.7,1151.5 726.0,1151.0 731.3,1147.9 736.4,1151.1 741.1,1151.5 745.6,1154.8 750.1,1157.9" fill="none" stroke="#e8262a" stroke-width="1.6" stroke-linejoin="round" stroke-linecap="round"/>
<polyline points="94.0,968.4 96.7,945.0 102.5,961.3 107.5,1044.2 112.0,1056.5 117.0,1020.5 121.0,1028.1 126.1,844.3 130.7,942.5 135.6,1028.0 140.2,1056.6 145.1,1064.5 149.8,1003.5 154.3,1140.7 159.7,850.2 163.6,890.5 168.0,872.1 171.9,801.9 176.3,1011.7 180.9,1107.5 185.6,1102.1 189.6,1099.8 193.8,1099.5 197.5,1098.6 201.3,1111.3 205.6,1075.0 210.3,1110.3 215.4,1079.9 219.6,1082.4 226.0,1141.0 228.4,1122.7 233.9,1147.0 237.0,1137.0 240.8,1136.6 244.5,1123.8 249.4,1127.4 253.5,1135.8 257.5,1138.8 262.3,1142.2 267.2,1139.0 272.0,1144.1 276.3,1137.5 281.2,1122.3 286.1,1133.7 290.7,1139.6 295.9,1109.3 300.3,1126.1 304.5,1126.8 308.8,1144.2 312.9,1124.7 317.1,1131.4 321.4,1143.6 325.7,1143.9 330.8,1149.6 335.3,1148.7 339.2,1136.9 344.2,1140.4 347.8,1130.1 352.4,1120.6 357.7,1129.8 362.5,1138.0 367.1,1138.0 372.1,1144.4 377.0,1147.2 382.2,1155.4 386.1,1151.6 391.0,1143.9 395.0,1144.4 400.0,1141.6 404.3,1150.0 408.5,1160.3 413.0,1149.0 417.6,1144.5 422.8,1147.1 427.2,1160.1 432.3,1150.7 437.4,1159.1 442.7,1147.7 447.4,1148.7 452.5,1152.1 456.8,1147.7 461.8,1147.4 467.2,1146.9 471.1,1153.1 475.5,1151.5 479.2,1164.9 483.4,1156.7 488.3,1152.0 492.3,1149.0 496.9,1150.3 502.2,1156.8 506.1,1148.9 510.1,1142.5 514.8,1147.8 518.8,1145.1 522.7,1153.5 527.6,1144.4 532.7,1149.6 537.2,1148.0 542.4,1159.7 546.6,1142.0 551.1,1150.5 555.1,1164.2 560.1,1158.5 564.4,1150.5 568.5,1153.9 573.9,1152.8 577.5,1152.3 582.0,1150.4 586.9,1160.8 591.6,1156.8 595.7,1157.1 599.8,1158.0 604.5,1150.8 609.9,1154.4 613.8,1160.1 618.8,1163.0 623.9,1156.0 629.0,1158.1 633.9,1155.0 637.7,1149.5 643.0,1157.7 647.6,1157.8 652.7,1151.6 657.0,1155.8 662.1,1153.4 666.1,1147.0 669.9,1146.6 675.0,1148.6 678.8,1156.9 682.9,1145.5 687.2,1150.5 692.0,1154.1 696.4,1157.0 701.8,1160.1 705.4,1152.6 709.7,1156.7 714.3,1154.4 718.7,1164.9 723.8,1152.3 727.7,1149.4 732.0,1150.3 736.6,1151.6 740.9,1156.3 745.7,1154.4 750.6,1159.5" fill="none" stroke="#2b2bff" stroke-width="1.6" stroke-linejoin="round" stroke-linecap="round"/>
<polyline points="94.0,1008.8 98.9,977.5 103.0,960.0 107.0,1034.1 110.7,1026.5 114.6,1003.1 119.0,1029.5 122.7,956.4 126.7,927.8 132.0,882.0 134.8,1021.8 139.3,1057.3 144.1,1075.9 148.4,1048.5 152.6,1114.2 156.9,1031.0 161.8,925.6 166.6,904.1 171.2,854.7 175.5,952.5 180.2,1095.3 182.5,1151.0 189.8,1098.1 194.8,1062.0 198.6,1122.6 202.9,1092.8 207.4,1117.8 212.7,1105.5 217.3,1080.7 221.2,1106.0 226.5,1123.2 228.6,1102.0 234.3,1116.8 239.0,1114.0 243.8,1125.8 247.6,1134.8 253.0,1142.4 257.5,1148.9 262.1,1134.7 267.4,1135.7 272.8,1148.4 276.6,1126.3 281.7,1122.0 285.7,1142.8 290.3,1130.0 294.9,1115.4 298.7,1124.5 304.0,1131.4 309.3,1130.5 314.1,1126.7 319.1,1132.4 324.1,1145.6 327.7,1144.3 331.6,1149.2 335.9,1143.0 340.4,1139.8 344.5,1132.7 349.3,1129.4 352.9,1125.6 358.3,1129.8 362.9,1132.4 367.7,1141.0 372.5,1143.3 377.0,1138.6 382.4,1154.7 386.7,1140.7 391.1,1136.8 395.6,1143.4 400.2,1140.4 404.4,1154.8 408.1,1152.7 413.0,1141.4 417.6,1145.9 422.3,1149.1 426.0,1160.8 430.5,1159.4 434.9,1160.8 439.4,1156.9 443.4,1153.5 447.5,1158.6 451.2,1163.0 456.0,1144.6 461.1,1139.3 465.1,1151.4 470.1,1142.1 473.9,1149.5 478.9,1159.7 484.2,1155.1 487.8,1148.3 492.0,1148.4 495.7,1152.9 500.0,1149.5 504.3,1150.4 507.9,1144.7 513.1,1138.3 518.4,1148.3 523.8,1149.3 527.9,1146.7 533.2,1147.0 538.3,1147.9 542.5,1148.2 547.7,1152.7 553.1,1156.0 557.0,1161.1 562.2,1157.1 567.1,1155.5 571.3,1161.0 576.2,1149.9 580.0,1151.9 584.4,1146.8 588.2,1156.4 593.0,1158.8 597.0,1156.2 601.8,1157.2 606.8,1150.5 612.0,1159.3 616.7,1156.0 621.9,1159.2 626.7,1155.0 630.5,1160.3 635.9,1148.2 640.4,1157.4 644.1,1154.6 648.1,1153.6 653.2,1157.1 658.2,1156.0 662.2,1153.4 666.1,1157.1 671.0,1140.0 675.8,1150.6 680.7,1146.4 685.2,1156.9 689.1,1142.3 693.4,1149.9 698.2,1157.0 702.7,1152.9 707.8,1155.6 713.1,1153.2 717.0,1155.3 721.7,1148.7 725.8,1145.0 730.8,1155.0 735.8,1153.1 739.8,1157.5 744.4,1152.8 749.1,1156.2" fill="none" stroke="#b830d8" stroke-width="1.6" stroke-linejoin="round" stroke-linecap="round"/>
<polyline points="94.0,961.7 97.9,974.1 101.8,994.9 106.2,1024.5 112.0,1000.0 113.5,940.0 119.5,1004.3 124.6,933.6 128.6,943.4 132.3,982.5 136.4,1018.4 140.5,1060.6 145.2,1087.4 149.1,1085.6 153.1,1124.9 158.2,985.8 163.2,907.9 167.5,900.4 171.5,838.7 176.0,976.0 180.9,1107.4 185.4,1110.3 188.4,1077.0 195.5,1106.4 199.4,1113.8 203.7,1097.8 207.5,1134.1 211.2,1158.0 217.4,1085.6 222.0,1132.5 226.0,1113.5 230.2,1125.5 234.5,1078.0 238.1,1127.0 244.5,1154.0 246.7,1128.3 251.5,1137.7 258.0,1158.0 261.1,1131.5 265.4,1142.6 270.4,1143.1 274.4,1147.4 279.0,1124.7 282.9,1130.4 287.4,1131.5 292.8,1129.6 297.6,1120.9 301.9,1124.4 305.6,1131.2 309.7,1127.8 313.3,1131.5 317.6,1139.4 322.9,1139.8 327.2,1138.6 331.0,1148.1 336.0,1143.8 340.9,1141.4 345.1,1135.7 349.4,1141.4 353.6,1132.6 358.6,1131.1 362.9,1137.4 366.9,1142.4 371.6,1143.0 375.2,1143.1 379.8,1152.7 383.7,1148.8 388.6,1143.8 393.4,1148.4 397.5,1150.5 402.3,1146.3 407.5,1155.8 411.5,1153.9 415.5,1147.1 419.2,1154.3 423.8,1155.6 428.8,1160.1 433.7,1154.9 438.9,1156.2 443.7,1160.8 449.0,1156.9 453.8,1149.9 457.5,1145.4 461.2,1148.5 465.5,1145.3 469.6,1154.7 473.5,1149.1 477.4,1158.1 482.2,1153.4 486.4,1151.4 490.8,1149.1 495.7,1151.1 500.2,1154.2 504.6,1150.1 508.8,1148.4 512.5,1142.6 517.0,1135.8 521.2,1145.1 525.2,1154.6 530.4,1142.5 535.1,1146.0 539.0,1156.2 543.4,1143.2 547.7,1145.4 552.3,1160.5 557.1,1153.5 561.8,1152.0 565.9,1157.2 571.0,1157.3 576.2,1152.0 579.9,1158.1 584.0,1159.0 588.3,1158.1 592.2,1155.2 596.2,1153.9 599.8,1152.1 604.4,1152.0 608.9,1156.6 613.7,1150.0 618.3,1154.1 623.4,1159.3 627.6,1155.2 632.8,1151.3 637.7,1159.9 642.5,1163.9 646.4,1154.6 651.1,1149.2 655.4,1154.6 659.5,1154.3 663.5,1149.3 667.6,1149.2 672.1,1149.6 675.9,1152.3 679.7,1154.7 684.6,1154.4 689.5,1151.8 694.0,1156.8 699.2,1163.4 702.9,1157.3 707.9,1161.9 712.2,1156.8 717.1,1151.9 721.3,1148.0 726.4,1157.9 731.5,1148.6 736.4,1150.9 741.1,1156.3 744.9,1147.8 749.2,1154.9" fill="none" stroke="#3cc8c8" stroke-width="1.6" stroke-linejoin="round" stroke-linecap="round"/>
<polyline points="94.0,990.0 97.3,990.5 101.3,975.3 104.6,978.0 106.0,1019.0 108.6,1073.0 111.3,1024.7 114.3,1022.0 119.5,1020.0 121.5,1000.0 124.1,948.0 127.0,919.5 131.3,956.5 135.5,1019.0 139.8,1068.0 144.1,1074.0 148.3,1066.0 151.2,1104.3 154.2,1128.0 156.6,1045.0 158.3,960.0 158.8,888.0 163.0,884.5 166.8,910.0 168.5,866.0 170.0,840.0 171.0,831.0 173.5,831.0 175.3,942.3 176.8,1019.0 181.0,1104.3 182.5,1144.1 186.7,1095.0 191.0,1092.0 195.3,1104.3 199.5,1118.6 203.8,1093.0 209.5,1121.4 215.2,1075.9 219.4,1093.0 222.3,1132.8 229.4,1121.4 240.8,1129.9 249.3,1129.9 257.9,1141.3 266.4,1135.6 273.5,1147.0 279.2,1121.4 287.5,1133.8 296.6,1115.7 301.1,1126.2 307.1,1135.3 313.1,1129.3 320.7,1139.8 335.7,1145.8 344.7,1136.8 353.8,1126.2 361.3,1136.8 370.3,1141.3 382.4,1150.3 391.4,1145.8 403.5,1150.3 411.0,1156.4 415.5,1142.8 426.0,1157.9 435.1,1154.9 450.1,1154.9 462.2,1145.8 469.7,1150.3 478.7,1156.4 493.8,1142.8 501.3,1156.4 510.4,1141.3 516.3,1139.4 524.1,1152.7 530.4,1141.8 538.2,1149.6 549.2,1152.7 557.1,1155.9 572.7,1154.3 588.4,1155.9 604.1,1154.3 619.8,1155.9 627.6,1155.9 635.5,1152.7 643.3,1157.4 651.2,1154.3 663.7,1154.3 671.5,1146.5 679.4,1154.3 688.8,1148.0 699.8,1157.4 713.9,1157.4 721.7,1151.2 732.7,1152.7 742.1,1152.7 751.5,1157.4 754.0,1158.0" fill="none" stroke="#000" stroke-width="6.6" stroke-linejoin="round" stroke-linecap="round"/>
<rect x="96" y="972.5" width="11.4" height="23.2" fill="#000"/>
<rect x="102" y="972.5" width="6.2" height="66.5" fill="#000"/>
<rect x="102" y="1014" width="21.6" height="17.0" fill="#000"/>
<rect x="104.3" y="1031" width="10.8" height="48.0" fill="#000"/>
<rect x="119.8" y="915" width="10.0" height="116.0" fill="#000"/>
<rect x="121.5" y="905" width="9.5" height="15.0" fill="#000"/>
<rect x="138.8" y="1054" width="14.6" height="29.6" fill="#000"/>
<rect x="150.5" y="1075" width="7.3" height="55.0" fill="#000"/>
<rect x="154.1" y="915" width="7.3" height="160.0" fill="#000"/>
<rect x="155.6" y="884.3" width="18.3" height="39.5" fill="#000"/>
<rect x="165.8" y="830" width="8.1" height="84.0" fill="#000"/>
<rect x="172.5" y="905" width="5.0" height="105.0" fill="#000"/>
<rect x="176.5" y="1010" width="4.5" height="52.0" fill="#000"/>
<rect x="178.6" y="1050" width="3.5" height="58.0" fill="#000"/>
<rect x="179.5" y="1085" width="8.9" height="61.0" fill="#000"/>
<rect x="185.7" y="1090" width="11.6" height="22.0" fill="#000"/>
<rect x="207" y="1084" width="8.0" height="49.0" fill="#000"/>
<rect x="212.5" y="1072" width="9.0" height="40.0" fill="#000"/>
<rect x="201.8" y="1086" width="7.2" height="26.0" fill="#000"/>
<rect x="219.7" y="1112" width="5.3" height="25.0" fill="#000"/></g>
<rect x="967.6" y="1159.5" width="14.8" height="5.2" fill="#00008f" stroke="#000" stroke-width="1.6"/>
<rect x="982.4" y="1144.1" width="14.8" height="20.6" fill="#00008f" stroke="#000" stroke-width="1.6"/>
<rect x="997.2" y="1140.4" width="14.8" height="24.3" fill="#00008f" stroke="#000" stroke-width="1.6"/>
<rect x="1012.0" y="1116.0" width="14.8" height="48.7" fill="#00008f" stroke="#000" stroke-width="1.6"/>
<rect x="1026.8" y="1104.2" width="14.8" height="60.5" fill="#00008f" stroke="#000" stroke-width="1.6"/>
<rect x="1041.6" y="1096.7" width="14.8" height="68.0" fill="#00008f" stroke="#000" stroke-width="1.6"/>
<rect x="1056.4" y="1078.6" width="14.8" height="86.1" fill="#00008f" stroke="#000" stroke-width="1.6"/>
<rect x="1071.2" y="1053.6" width="14.8" height="111.1" fill="#00008f" stroke="#000" stroke-width="1.6"/>
<rect x="1086.0" y="1017.4" width="14.8" height="147.3" fill="#00008f" stroke="#000" stroke-width="1.6"/>
<rect x="1100.8" y="952.5" width="14.8" height="212.2" fill="#00008f" stroke="#000" stroke-width="1.6"/>
<rect x="1115.6" y="932.6" width="14.8" height="232.1" fill="#00008f" stroke="#000" stroke-width="1.6"/>
<rect x="1130.4" y="779.1" width="14.8" height="385.6" fill="#00008f" stroke="#000" stroke-width="1.6"/>
<rect x="1145.2" y="712.9" width="14.8" height="451.8" fill="#00008f" stroke="#000" stroke-width="1.6"/>
<rect x="1160.0" y="883.9" width="14.8" height="280.8" fill="#00008f" stroke="#000" stroke-width="1.6"/>
<rect x="1174.8" y="875.2" width="14.8" height="289.5" fill="#00008f" stroke="#000" stroke-width="1.6"/>
<rect x="1189.6" y="913.9" width="14.8" height="250.8" fill="#00008f" stroke="#000" stroke-width="1.6"/>
<rect x="1204.4" y="986.9" width="14.8" height="177.8" fill="#00008f" stroke="#000" stroke-width="1.6"/>
<rect x="1219.2" y="1026.2" width="14.8" height="138.5" fill="#00008f" stroke="#000" stroke-width="1.6"/>
<rect x="1234.0" y="1059.2" width="14.8" height="105.5" fill="#00008f" stroke="#000" stroke-width="1.6"/>
<rect x="1248.8" y="1086.4" width="14.8" height="78.3" fill="#00008f" stroke="#000" stroke-width="1.6"/>
<rect x="1263.6" y="1092.7" width="14.8" height="72.0" fill="#00008f" stroke="#000" stroke-width="1.6"/>
<rect x="1278.4" y="1117.8" width="14.8" height="46.9" fill="#00008f" stroke="#000" stroke-width="1.6"/>
<rect x="1293.2" y="1126.6" width="14.8" height="38.1" fill="#00008f" stroke="#000" stroke-width="1.6"/>
<rect x="1308.0" y="1135.4" width="14.8" height="29.3" fill="#00008f" stroke="#000" stroke-width="1.6"/>
<rect x="1322.8" y="1148.9" width="14.8" height="15.8" fill="#00008f" stroke="#000" stroke-width="1.6"/>
<rect x="1337.6" y="1153.6" width="14.8" height="11.1" fill="#00008f" stroke="#000" stroke-width="1.6"/>
<rect x="1352.4" y="1156.4" width="14.8" height="8.3" fill="#00008f" stroke="#000" stroke-width="1.6"/>
<rect x="1367.2" y="1159.0" width="14.8" height="5.7" fill="#00008f" stroke="#000" stroke-width="1.6"/>
<rect x="1382.0" y="1160.7" width="14.8" height="4.0" fill="#00008f" stroke="#000" stroke-width="1.6"/>
<rect x="1396.8" y="1162.3" width="14.8" height="2.4" fill="#00008f" stroke="#000" stroke-width="1.6"/>
<rect x="1411.6" y="1163.6" width="14.8" height="1.1" fill="#00008f" stroke="#000" stroke-width="1.6"/>
<rect x="1441.2" y="1162.2" width="14.8" height="2.5" fill="#00008f" stroke="#000" stroke-width="1.6"/>
<rect x="1470.8" y="1163.5" width="14.8" height="1.2" fill="#00008f" stroke="#000" stroke-width="1.6"/>
<rect x="1485.6" y="1163.5" width="14.8" height="1.2" fill="#00008f" stroke="#000" stroke-width="1.6"/>
<rect x="1544.8" y="1163.5" width="14.8" height="1.2" fill="#00008f" stroke="#000" stroke-width="1.6"/>
<line x1="151.4" y1="666.1" x2="151.4" y2="1165.9" stroke="#e00000" stroke-width="3.1" stroke-dasharray="14 6.5" stroke-dashoffset="13"/>
<line x1="175.8" y1="666.1" x2="175.8" y2="1165.9" stroke="#e00000" stroke-width="2.8"/>
<line x1="198.6" y1="666.1" x2="198.6" y2="1165.9" stroke="#e00000" stroke-width="3.1" stroke-dasharray="14 6.5" stroke-dashoffset="13"/>
<line x1="1090.6" y1="665.5" x2="1090.6" y2="1164.7" stroke="#e00000" stroke-width="3.1" stroke-dasharray="13.9 6.9" stroke-dashoffset="0"/>
<line x1="1159.3" y1="665.5" x2="1159.3" y2="1164.7" stroke="#e00000" stroke-width="2.8"/>
<line x1="1226.5" y1="665.5" x2="1226.5" y2="1164.7" stroke="#e00000" stroke-width="3.1" stroke-dasharray="13.9 6.9" stroke-dashoffset="0"/>
<rect x="92.5" y="27.5" width="662.5" height="499.8" fill="none" stroke="#5a5a5a" stroke-width="2.2" rx="1.5"/>
<text transform="translate(92.5,550.1) scale(0.9,1.08)" text-anchor="middle" class="tl">0</text>
<text transform="translate(158.9,550.1) scale(0.9,1.08)" text-anchor="middle" class="tl">0.2</text>
<text transform="translate(225.4,550.1) scale(0.9,1.08)" text-anchor="middle" class="tl">0.4</text>
<text transform="translate(291.8,550.1) scale(0.9,1.08)" text-anchor="middle" class="tl">0.6</text>
<text transform="translate(358.3,550.1) scale(0.9,1.08)" text-anchor="middle" class="tl">0.8</text>
<text transform="translate(424.7,550.1) scale(0.9,1.08)" text-anchor="middle" class="tl">1</text>
<text transform="translate(491.1,550.1) scale(0.9,1.08)" text-anchor="middle" class="tl">1.2</text>
<text transform="translate(557.6,550.1) scale(0.9,1.08)" text-anchor="middle" class="tl">1.4</text>
<text transform="translate(624.0,550.1) scale(0.9,1.08)" text-anchor="middle" class="tl">1.6</text>
<text transform="translate(690.5,550.1) scale(0.9,1.08)" text-anchor="middle" class="tl">1.8</text>
<text transform="translate(84.2,533.7) scale(0.9,1.08)" text-anchor="end" class="tl">0</text>
<text transform="translate(84.2,449.5) scale(0.9,1.08)" text-anchor="end" class="tl">0.01</text>
<text transform="translate(84.2,365.3) scale(0.9,1.08)" text-anchor="end" class="tl">0.02</text>
<text transform="translate(84.2,281.1) scale(0.9,1.08)" text-anchor="end" class="tl">0.03</text>
<text transform="translate(84.2,196.9) scale(0.9,1.08)" text-anchor="end" class="tl">0.04</text>
<text transform="translate(84.2,112.7) scale(0.9,1.08)" text-anchor="end" class="tl">0.05</text>
<rect x="919.0" y="27.7" width="662.0" height="499.6" fill="none" stroke="#5a5a5a" stroke-width="2.2" rx="1.5"/>
<text transform="translate(919.0,550.1) scale(0.9,1.08)" text-anchor="middle" class="tl">0</text>
<text transform="translate(985.4,550.1) scale(0.9,1.08)" text-anchor="middle" class="tl">0.2</text>
<text transform="translate(1051.9,550.1) scale(0.9,1.08)" text-anchor="middle" class="tl">0.4</text>
<text transform="translate(1118.3,550.1) scale(0.9,1.08)" text-anchor="middle" class="tl">0.6</text>
<text transform="translate(1184.8,550.1) scale(0.9,1.08)" text-anchor="middle" class="tl">0.8</text>
<text transform="translate(1251.2,550.1) scale(0.9,1.08)" text-anchor="middle" class="tl">1</text>
<text transform="translate(1317.6,550.1) scale(0.9,1.08)" text-anchor="middle" class="tl">1.2</text>
<text transform="translate(1384.1,550.1) scale(0.9,1.08)" text-anchor="middle" class="tl">1.4</text>
<text transform="translate(1450.5,550.1) scale(0.9,1.08)" text-anchor="middle" class="tl">1.6</text>
<text transform="translate(1517.0,550.1) scale(0.9,1.08)" text-anchor="middle" class="tl">1.8</text>
<text transform="translate(910.7,533.7) scale(0.9,1.08)" text-anchor="end" class="tl">0</text>
<text transform="translate(910.7,464.3) scale(0.9,1.08)" text-anchor="end" class="tl">0.01</text>
<text transform="translate(910.7,394.9) scale(0.9,1.08)" text-anchor="end" class="tl">0.02</text>
<text transform="translate(910.7,325.5) scale(0.9,1.08)" text-anchor="end" class="tl">0.03</text>
<text transform="translate(910.7,256.1) scale(0.9,1.08)" text-anchor="end" class="tl">0.04</text>
<text transform="translate(910.7,186.7) scale(0.9,1.08)" text-anchor="end" class="tl">0.05</text>
<text transform="translate(910.7,117.3) scale(0.9,1.08)" text-anchor="end" class="tl">0.06</text>
<text transform="translate(910.7,47.9) scale(0.9,1.08)" text-anchor="end" class="tl">0.07</text>
<rect x="92.8" y="666.1" width="661.9" height="499.8" fill="none" stroke="#5a5a5a" stroke-width="2.2" rx="1.5"/>
<text transform="translate(92.8,1188.7) scale(0.9,1.08)" text-anchor="middle" class="tl">0</text>
<text transform="translate(159.0,1188.7) scale(0.9,1.08)" text-anchor="middle" class="tl">0.2</text>
<text transform="translate(225.2,1188.7) scale(0.9,1.08)" text-anchor="middle" class="tl">0.4</text>
<text transform="translate(291.4,1188.7) scale(0.9,1.08)" text-anchor="middle" class="tl">0.6</text>
<text transform="translate(357.6,1188.7) scale(0.9,1.08)" text-anchor="middle" class="tl">0.8</text>
<text transform="translate(423.8,1188.7) scale(0.9,1.08)" text-anchor="middle" class="tl">1</text>
<text transform="translate(489.9,1188.7) scale(0.9,1.08)" text-anchor="middle" class="tl">1.2</text>
<text transform="translate(556.1,1188.7) scale(0.9,1.08)" text-anchor="middle" class="tl">1.4</text>
<text transform="translate(622.3,1188.7) scale(0.9,1.08)" text-anchor="middle" class="tl">1.6</text>
<text transform="translate(688.5,1188.7) scale(0.9,1.08)" text-anchor="middle" class="tl">1.8</text>
<text transform="translate(754.7,1188.7) scale(0.9,1.08)" text-anchor="middle" class="tl">2</text>
<text transform="translate(84.5,1172.3) scale(0.9,1.08)" text-anchor="end" class="tl">0</text>
<text transform="translate(84.5,1081.7) scale(0.9,1.08)" text-anchor="end" class="tl">0.02</text>
<text transform="translate(84.5,991.1) scale(0.9,1.08)" text-anchor="end" class="tl">0.04</text>
<text transform="translate(84.5,900.4) scale(0.9,1.08)" text-anchor="end" class="tl">0.06</text>
<text transform="translate(84.5,809.8) scale(0.9,1.08)" text-anchor="end" class="tl">0.08</text>
<text transform="translate(84.5,719.2) scale(0.9,1.08)" text-anchor="end" class="tl">0.1</text>
<rect x="919.1" y="665.5" width="661.3" height="499.2" fill="none" stroke="#5a5a5a" stroke-width="2.2" rx="1.5"/>
<text transform="translate(919.1,1187.5) scale(0.9,1.08)" text-anchor="middle" class="tl">0</text>
<text transform="translate(1013.6,1187.5) scale(0.9,1.08)" text-anchor="middle" class="tl">0.1</text>
<text transform="translate(1108.0,1187.5) scale(0.9,1.08)" text-anchor="middle" class="tl">0.2</text>
<text transform="translate(1202.5,1187.5) scale(0.9,1.08)" text-anchor="middle" class="tl">0.3</text>
<text transform="translate(1297.0,1187.5) scale(0.9,1.08)" text-anchor="middle" class="tl">0.4</text>
<text transform="translate(1391.5,1187.5) scale(0.9,1.08)" text-anchor="middle" class="tl">0.5</text>
<text transform="translate(1485.9,1187.5) scale(0.9,1.08)" text-anchor="middle" class="tl">0.6</text>
<text transform="translate(1580.4,1187.5) scale(0.9,1.08)" text-anchor="middle" class="tl">0.7</text>
<text transform="translate(910.8,1171.1) scale(0.9,1.08)" text-anchor="end" class="tl">0</text>
<text transform="translate(910.8,1108.7) scale(0.9,1.08)" text-anchor="end" class="tl">100</text>
<text transform="translate(910.8,1046.3) scale(0.9,1.08)" text-anchor="end" class="tl">200</text>
<text transform="translate(910.8,983.9) scale(0.9,1.08)" text-anchor="end" class="tl">300</text>
<text transform="translate(910.8,921.5) scale(0.9,1.08)" text-anchor="end" class="tl">400</text>
<text transform="translate(910.8,859.1) scale(0.9,1.08)" text-anchor="end" class="tl">500</text>
<text transform="translate(910.8,796.7) scale(0.9,1.08)" text-anchor="end" class="tl">600</text>
<text transform="translate(910.8,734.3) scale(0.9,1.08)" text-anchor="end" class="tl">700</text>
<text transform="translate(910.8,671.9) scale(0.9,1.08)" text-anchor="end" class="tl">800</text>
<rect x="347.5" y="683.0" width="389.2" height="191.5" fill="#fff" stroke="none"/>
<line x1="347.5" y1="874.5" x2="347.5" y2="869.5" stroke="#333" stroke-width="1.6"/>
<line x1="347.5" y1="683.0" x2="347.5" y2="688.0" stroke="#333" stroke-width="1.6"/>
<text transform="translate(347.5,898.0) scale(0.9,1.08)" text-anchor="middle" class="tl">0</text>
<line x1="412.4" y1="874.5" x2="412.4" y2="869.5" stroke="#333" stroke-width="1.6"/>
<line x1="412.4" y1="683.0" x2="412.4" y2="688.0" stroke="#333" stroke-width="1.6"/>
<text transform="translate(412.4,898.0) scale(0.9,1.08)" text-anchor="middle" class="tl">10</text>
<line x1="477.2" y1="874.5" x2="477.2" y2="869.5" stroke="#333" stroke-width="1.6"/>
<line x1="477.2" y1="683.0" x2="477.2" y2="688.0" stroke="#333" stroke-width="1.6"/>
<text transform="translate(477.2,898.0) scale(0.9,1.08)" text-anchor="middle" class="tl">20</text>
<line x1="542.1" y1="874.5" x2="542.1" y2="869.5" stroke="#333" stroke-width="1.6"/>
<line x1="542.1" y1="683.0" x2="542.1" y2="688.0" stroke="#333" stroke-width="1.6"/>
<text transform="translate(542.1,898.0) scale(0.9,1.08)" text-anchor="middle" class="tl">30</text>
<line x1="607.0" y1="874.5" x2="607.0" y2="869.5" stroke="#333" stroke-width="1.6"/>
<line x1="607.0" y1="683.0" x2="607.0" y2="688.0" stroke="#333" stroke-width="1.6"/>
<text transform="translate(607.0,898.0) scale(0.9,1.08)" text-anchor="middle" class="tl">40</text>
<line x1="671.8" y1="874.5" x2="671.8" y2="869.5" stroke="#333" stroke-width="1.6"/>
<line x1="671.8" y1="683.0" x2="671.8" y2="688.0" stroke="#333" stroke-width="1.6"/>
<text transform="translate(671.8,898.0) scale(0.9,1.08)" text-anchor="middle" class="tl">50</text>
<line x1="736.7" y1="874.5" x2="736.7" y2="869.5" stroke="#333" stroke-width="1.6"/>
<line x1="736.7" y1="683.0" x2="736.7" y2="688.0" stroke="#333" stroke-width="1.6"/>
<text transform="translate(736.7,898.0) scale(0.9,1.08)" text-anchor="middle" class="tl">60</text>
<line x1="347.5" y1="860.0" x2="352.5" y2="860.0" stroke="#333" stroke-width="1.6"/>
<line x1="736.7" y1="860.0" x2="731.7" y2="860.0" stroke="#333" stroke-width="1.6"/>
<text transform="translate(341.0,867.3) scale(0.9,1.08)" text-anchor="end" class="tl">-50</text>
<line x1="347.5" y1="792.0" x2="352.5" y2="792.0" stroke="#333" stroke-width="1.6"/>
<line x1="736.7" y1="792.0" x2="731.7" y2="792.0" stroke="#333" stroke-width="1.6"/>
<text transform="translate(341.0,799.3) scale(0.9,1.08)" text-anchor="end" class="tl">0</text>
<line x1="347.5" y1="724.0" x2="352.5" y2="724.0" stroke="#333" stroke-width="1.6"/>
<line x1="736.7" y1="724.0" x2="731.7" y2="724.0" stroke="#333" stroke-width="1.6"/>
<text transform="translate(341.0,731.3) scale(0.9,1.08)" text-anchor="end" class="tl">50</text>
<polyline points="348.3,790.0 348.5,735.0 349.4,729.2 351.6,726.3 353.8,727.8 354.5,739.5 355.2,755.6 358.2,764.3 361.1,774.6 364.0,789.2 366.9,777.5 369.1,777.5 374.2,784.8 379.4,789.2 381.5,796.5 385.9,793.6 388.9,792.8 393.2,783.3 395.4,794.3 399.1,793.6 403.5,788.5 407.1,798.0 412.3,795.0 413.7,781.9 418.1,774.6 420.3,761.4 424.0,761.4 428.3,767.3 432.7,784.8 435.6,800.9 438.6,817.0 440.0,831.6 444.4,825.7 447.3,812.6 452.5,800.9 457.6,811.1 459.0,828.7 462.0,838.9 464.2,844.0 467.8,825.7 469.3,809.6 472.2,787.7 472.9,767.3 473.7,742.4 476.6,721.9 478.0,709.5 481.7,714.6 484.6,726.3 486.5,743.9 487.9,770.2 489.4,790.6 490.8,814.0 491.6,837.4 492.3,849.1 495.2,840.4 498.9,837.4 499.6,824.3 501.1,802.3 504.0,793.6 508.4,777.5 512.8,781.9 513.5,799.4 515.7,817.0 518.6,828.7 520.8,838.9 523.7,825.7 530.3,815.5 531.8,796.5 534.7,776.0 537.6,762.9 541.3,752.6 545.0,762.9 546.4,784.8 549.3,799.4 550.8,808.2 553.7,802.3 556.6,777.5 562.5,762.9 566.9,776.0 569.8,796.5 575.6,800.9 580.0,790.6 584.4,783.3 588.8,767.3 591.7,758.5 596.1,767.3 600.0,778.9 601.5,784.8 606.6,793.6 611.7,789.9 614.6,795.0 617.5,800.9 620.5,793.6 623.4,789.2 626.3,796.5 632.2,795.8 635.8,798.7 638.7,791.4 643.1,794.3 645.3,805.3 648.2,819.9 651.2,841.8 657.0,837.4 659.9,822.8 662.9,819.2 665.8,822.8 670.2,805.3 675.3,787.7 680.4,805.3 683.3,824.3 687.0,841.8 690.6,827.2 695.0,815.5 698.0,798.0 700.9,799.4 705.3,814.0 709.6,828.7 714.0,843.3 718.4,834.5 723.5,827.2" fill="none" stroke="#000" stroke-width="3.8" stroke-linejoin="round" stroke-linecap="round"/>
<rect x="347.5" y="683.0" width="389.2" height="191.5" fill="none" stroke="#222" stroke-width="2"/>
<text x="490.6" y="926.3" text-anchor="middle" class="ib">t</text>
<text x="504" y="926.3" text-anchor="middle" class="ib">i</text>
<text x="523.6" y="926.3" text-anchor="middle" class="ib">m</text>
<text x="547.5" y="926.3" text-anchor="middle" class="ib">e</text>
<text x="564.8" y="926.3" text-anchor="middle" class="ib">(</text>
<text x="574.6" y="926.3" text-anchor="middle" class="ib">s</text>
<text x="584.8" y="926.3" text-anchor="middle" class="ib">)</text>
<text transform="translate(298,828.4) rotate(-90)" text-anchor="middle" class="ib">C</text>
<text transform="translate(298,806.7) rotate(-90)" text-anchor="middle" class="ib">F</text>
<text transform="translate(298,784.8) rotate(-90)" text-anchor="middle" class="ib">P</text>
<text transform="translate(298,762.8) rotate(-90)" text-anchor="middle" class="ib">S</text>
<text transform="translate(298,743) rotate(-90)" text-anchor="middle" class="ib">(</text>
<text transform="translate(298,728) rotate(-90)" text-anchor="middle" class="ib">)</text>
<text transform="translate(286.5,736.7) rotate(-90)" text-anchor="middle" class="ibs">0</text>
<text transform="translate(-0.8,29.4) scale(1.1,1)" class="pl">A</text>
<text transform="translate(827,28.8) scale(1.06,1)" class="pl">B</text>
<text transform="translate(0.2,665.8) scale(1.1,1)" class="pl">C</text>
<text transform="translate(827.4,666.6) scale(1.05,1)" class="pl">D</text>
<text x="421.7" y="586" text-anchor="middle" class="al" style="letter-spacing:0.6px">frequency (Hz)</text>
<text x="1247.9" y="586" text-anchor="middle" class="al" style="letter-spacing:0.6px">frequency (Hz)</text>
<text x="421.8" y="1223.5" text-anchor="middle" class="al" style="letter-spacing:0.6px">frequency (Hz)</text>
<text x="1248.3" y="1223.5" text-anchor="middle" class="al" style="letter-spacing:0.68px">BB frequency (Hz)</text>
<text transform="translate(29.6,278.4) rotate(-90)" text-anchor="middle" class="al" style="letter-spacing:0.2px">relative FFT amplitude</text>
<text transform="translate(854.3,271.5) rotate(-90)" text-anchor="middle" class="al" style="letter-spacing:0px">relative FFT amplitude</text>
<text transform="translate(32.3,915.5) rotate(-90)" text-anchor="middle" class="al" style="letter-spacing:0px">relative FFT amplitude</text>
<text transform="translate(864.8,913.9) rotate(-90)" text-anchor="middle" class="al" style="letter-spacing:0.25px">N(BB frequency)</text>
</svg>
</body></html>
